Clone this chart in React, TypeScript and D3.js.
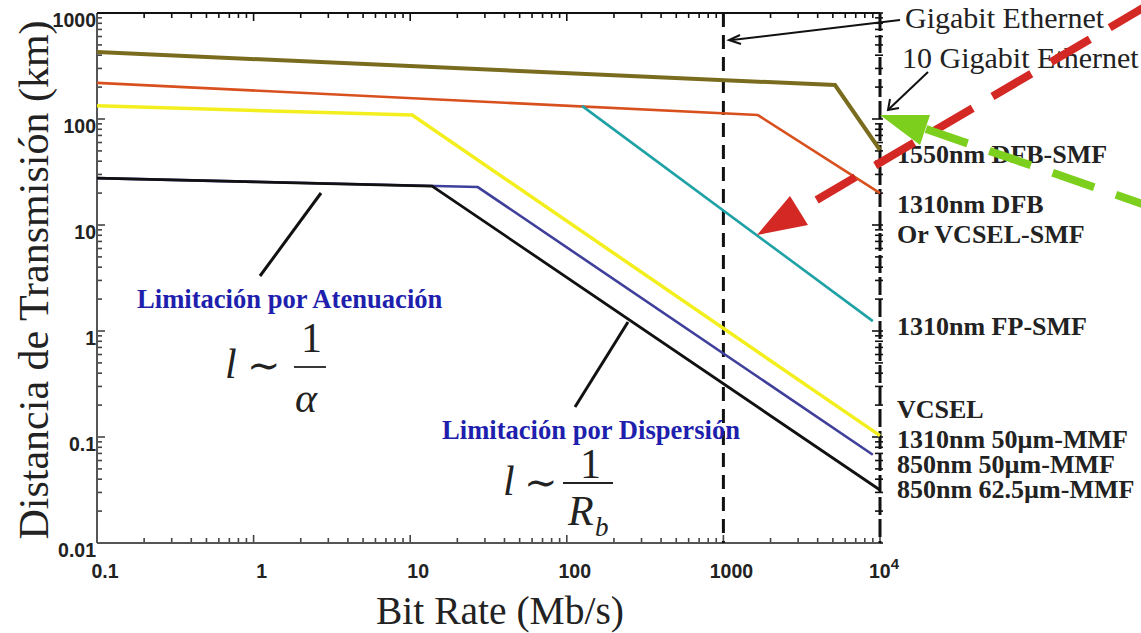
import * as d3 from 'd3';
import React from 'react';

// bit rate (Mb/s) / distance (km) break points for each link type
const oliveRate = [0.1, 5160, 10000];
const oliveDist = [428, 209, 51];
const redRate = [0.1, 1660, 10000];
const redDist = [219, 109, 20];
const yellowRate = [0.1, 10.3, 10000];
const yellowDist = [133, 109, 0.103];
const tealRate = [125, 9000];
const tealDist = [133, 1.24];
const blueRate = [0.1, 27, 9000];
const blueDist = [27.7, 22.8, 0.068];
const blackRate = [0.1, 13.8, 10000];
const blackDist = [27.7, 23.3, 0.0316];

const xTickValues = [0.1, 1, 10, 100, 1000, 10000];
const xTickLabels = ['0.1', '1', '10', '100', '1000', '10'];
const yTickValues = [1000, 100, 10, 1, 0.1, 0.01];
const yTickLabels = ['1000', '100', '10', '1', '0.1', '0.01'];

const rightLabels = [
  '1550nm DFB-SMF',
  '1310nm DFB',
  'Or VCSEL-SMF',
  '1310nm FP-SMF',
  'VCSEL',
  '1310nm 50µm-MMF',
  '850nm 50µm-MMF',
  '850nm 62.5µm-MMF',
];
const rightLabelY = [163, 213, 243, 335, 418, 448, 473, 498];

const serif = '"Liberation Serif", "DejaVu Serif", serif';
const sans = '"Liberation Sans", Arial, sans-serif';

const series = [
  { rate: blueRate, dist: blueDist, color: '#3f3f9c', w: 2.6 },
  { rate: oliveRate, dist: oliveDist, color: '#7a6c1f', w: 4 },
  { rate: redRate, dist: redDist, color: '#d9501f', w: 2.6 },
  { rate: yellowRate, dist: yellowDist, color: '#f3ef1f', w: 3.5 },
  { rate: tealRate, dist: tealDist, color: '#1fa2a6', w: 2.6 },
  { rate: blackRate, dist: blackDist, color: '#111', w: 2.8 },
];

export default function App() {
  const left = 97, right = 880, top = 13, bottom = 543;
  const x = d3.scaleLog().domain([0.1, 10000]).range([left, right]);
  const y = d3.scaleLog().domain([0.01, 1000]).range([bottom, top]);

  const line = d3.line<number[]>()
    .x(d => x(d[0]))
    .y(d => y(d[1]));

  const isMajor = (t: number) => Math.abs(Math.log10(t) - Math.round(Math.log10(t))) < 1e-6;
  const xt = x.ticks();
  const yt = y.ticks();

  return (
    <div style={{ position: 'absolute', left: 0, top: 0 }}>
      <svg width={1141} height={633} style={{ display: 'block', background: '#fff' }}>
        {/* ticks */}
        {xt.map((t, i) => {
          const len = isMajor(t) ? 8 : 5;
          return (
            <g key={'xt' + i} stroke="#444" strokeWidth={1.6}>
              <line x1={x(t)} x2={x(t)} y1={bottom} y2={bottom - len} />
              <line x1={x(t)} x2={x(t)} y1={top} y2={top + len} stroke="#111" />
            </g>
          );
        })}
        {yt.map((t, i) => {
          const len = isMajor(t) ? 8 : 5;
          return (
            <g key={'yt' + i} stroke="#444" strokeWidth={1.6}>
              <line x1={left} x2={left + len} y1={y(t)} y2={y(t)} />
              <line x1={right - len} x2={right + 3} y1={y(t)} y2={y(t)} stroke="#111" />
            </g>
          );
        })}

        {/* axes */}
        <line x1={left} x2={left} y1={top} y2={bottom} stroke="#555" strokeWidth={2} />
        <line x1={left} x2={right} y1={bottom} y2={bottom} stroke="#555" strokeWidth={2} />
        <line x1={left} x2={right} y1={top} y2={top} stroke="#111" strokeWidth={2} />
        <line x1={right} x2={right} y1={top} y2={bottom} stroke="#111" strokeWidth={3} strokeDasharray="18 4" />
        <line x1={x(1000)} x2={x(1000)} y1={top} y2={bottom} stroke="#111" strokeWidth={3} strokeDasharray="14 8" />

        {/* tick labels */}
        {yTickValues.map((v, i) => (
          <text key={'yl' + i} x={96} y={y(v) + 14} textAnchor="end"
            fontFamily={sans} fontWeight="bold" fontSize={19.5} fill="#222">{yTickLabels[i]}</text>
        ))}
        {xTickValues.map((v, i) => (
          <text key={'xl' + i} x={x(v) + (i === 5 ? 4 : 8)} y={578} textAnchor="middle"
            fontFamily={sans} fontWeight="bold" fontSize={19.5} fill="#222">
            {xTickLabels[i]}
            {i === 5 && <tspan dy={-9} fontSize={15}>4</tspan>}
          </text>
        ))}

        {/* series */}
        {series.map((s, i) => (
          <path key={'s' + i} d={line(s.rate.map((r, j) => [r, s.dist[j]])) || ''}
            fill="none" stroke={s.color} strokeWidth={s.w} strokeLinejoin="miter" />
        ))}

        {/* axis titles */}
        <text transform="translate(48,280) rotate(-90)" textAnchor="middle"
          fontFamily={serif} fontSize={42} fill="#222">Distancia de Transmisión (km)</text>
        <text x={500} y={624} textAnchor="middle" fontFamily={serif} fontSize={39.5} fill="#222">Bit Rate (Mb/s)</text>

        {/* pointers */}
        <line x1={260} y1={276} x2={321} y2={193} stroke="#111" strokeWidth={3} />
        <line x1={575} y1={407} x2={628} y2={322} stroke="#111" strokeWidth={3} />

        {/* region labels */}
        <text x={137} y={308} fontFamily={serif} fontWeight="bold" fontSize={26.6} fill="#1f1fae">Limitación por Atenuación</text>
        <text x={442} y={439} fontFamily={serif} fontWeight="bold" fontSize={26.6} fill="#1f1fae">Limitación por Dispersión</text>

        {/* formulas */}
        <g fontFamily={serif} fontSize={42} fill="#222">
          <text x={225} y={378} fontStyle="italic">l</text>
          <text x={247} y={379} fontSize={40} fontFamily='"DejaVu Serif", serif'>∼</text>
          <text x={301} y={352}>1</text>
          <line x1={294} x2={326} y1={367} y2={367} stroke="#222" strokeWidth={1.8} />
          <text x={295} y={412} fontStyle="italic">α</text>

          <text x={503} y={495} fontStyle="italic">l</text>
          <text x={524} y={496} fontSize={40} fontFamily='"DejaVu Serif", serif'>∼</text>
          <text x={580} y={478}>1</text>
          <line x1={563} x2={613} y1={483} y2={483} stroke="#222" strokeWidth={1.8} />
          <text x={568} y={525} fontStyle="italic">R</text>
          <text x={595} y={536} fontStyle="italic" fontSize={27}>b</text>
        </g>

        {/* ethernet labels */}
        <text x={905} y={28} fontFamily={serif} fontSize={30} fill="#222">Gigabit Ethernet</text>
        <text x={902} y={68} fontFamily={serif} fontSize={30} fill="#222">10 Gigabit Ethernet</text>
        <line x1={900} y1={20} x2={732} y2={40} stroke="#111" strokeWidth={2} />
        <path d="M 740 35 L 729 40 L 741 44" fill="none" stroke="#111" strokeWidth={2} />
        <line x1={928} y1={72} x2={889} y2={109} stroke="#111" strokeWidth={2} />
        <path d="M 890 99 L 888 110 L 899 108" fill="none" stroke="#111" strokeWidth={2} />

        {/* right labels */}
        {rightLabels.map((t, i) => (
          <text key={'rl' + i} x={897} y={rightLabelY[i]} fontFamily={serif} fontWeight="bold"
            fontSize={26} fill="#222">{t}</text>
        ))}

        {/* overlay arrows */}
        <line x1={808} y1={205} x2={1160} y2={-2} stroke="#d42824" strokeWidth={8} strokeDasharray="45 23" strokeDashoffset={-10} />
        <polygon points="757,235 790,196 808,225" fill="#d42824" />
        <line x1={926} y1={129} x2={1160} y2={210} stroke="#7ccf1d" strokeWidth={8} strokeDasharray="44 23" />
        <polygon points="880,115 930,115 920,145" fill="#7ccf1d" />
      </svg>
    </div>
  );
}
